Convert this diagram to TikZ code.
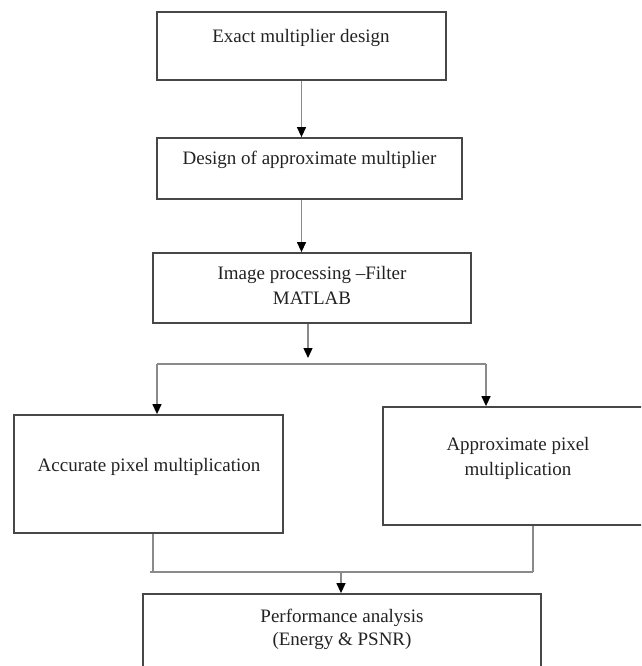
\documentclass[tikz,border=0pt]{standalone}
\usepackage{fontspec}
\setmainfont{Liberation Serif}
\usetikzlibrary{arrows.meta}
\definecolor{boxgray}{HTML}{474747}
\definecolor{linegray}{HTML}{8A8A8A}
\definecolor{txt}{HTML}{222222}
\begin{document}
\begin{tikzpicture}[x=1pt,y=-1pt,
  box/.style={draw=boxgray, line width=1.8pt, inner sep=0pt, fill=none},
  lbl/.style={text=txt, font=\fontsize{19}{25}\selectfont, align=center, inner sep=0pt, anchor=base},
  conn/.style={draw=linegray, line width=1.3pt},
  arr/.style={conn, -{Triangle[width=9pt,length=10pt,color=black]}}]
\useasboundingbox (0,0) rectangle (641,666);
\clip (0,0) rectangle (641,666);
% boxes
\node[box, minimum width=289pt, minimum height=68pt] (b1) at (301.5,46) {};
\node[box, minimum width=305pt, minimum height=61pt] (b2) at (309.5,168.5) {};
\node[box, minimum width=318pt, minimum height=70pt] (b3) at (312,288) {};
\node[box, minimum width=269pt, minimum height=118pt] (bl) at (148.5,474) {};
\node[box, minimum width=270pt, minimum height=118pt] (br) at (518,466) {};
\node[box, minimum width=398pt, minimum height=96pt] (bp) at (342,642) {};
% texts (base anchor = baseline of the last line)
\node[lbl] (t1) at (301,43) {Exact multiplier design};
\node[lbl] (t2) at (309.5,164) {Design of approximate multiplier};
\node[lbl] (t3) at (312,304) {Image processing --Filter\\MATLAB};
\node[lbl] (tl) at (149,471) {Accurate pixel multiplication};
\node[lbl] (tr) at (518,475) {Approximate pixel\\multiplication};
\node[lbl, font=\fontsize{19}{23}\selectfont] (tp) at (342,645) {Performance analysis\\(Energy \& PSNR)};
% connector points
\coordinate (a3) at (308,358);
\coordinate (sL) at (157,364);
\coordinate (sR) at (486,364);
\coordinate (jL) at (150,572);
\coordinate (jR) at (533,572);
\coordinate (jM) at (341,572);
% connectors
\draw[arr] (b1.south) -- (b1.south |- b2.north);
\draw[arr] (b2.south -| b1.south) -- (b3.north -| b1.south);
\draw[arr] (b3.south -| a3) -- (a3);
\draw[conn] (sL) -- (sR);
\draw[arr] (sL) -- (sL |- bl.north);
\draw[arr] (sR) -- (sR |- br.north);
\draw[conn] (bl.south -| 153,0) -- (153,572);
\draw[conn] (br.south -| jR) -- (jR);
\draw[conn] (jL) -- (jR);
\draw[arr] (jM) -- (jM |- bp.north);
\end{tikzpicture}
\end{document}
